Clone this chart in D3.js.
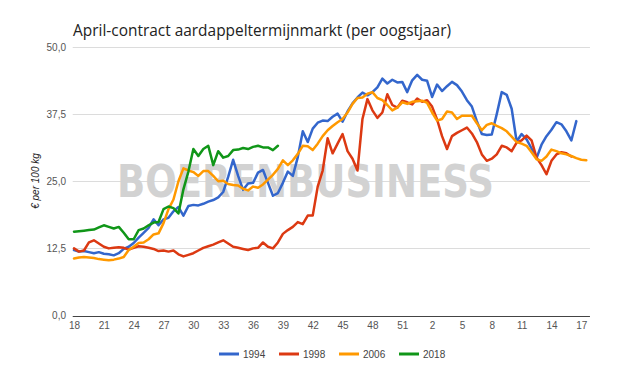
<!DOCTYPE html>
<html><head><meta charset="utf-8">
<script src="https://cdn.jsdelivr.net/npm/d3@7"></script>
<style>html,body{margin:0;padding:0;background:#fff;}svg{display:block;}</style>
</head><body>
<script>
// ---- data ----
const title = "April-contract aardappeltermijnmarkt (per oogstjaar)";
const yTitle = "€ per 100 kg";
const weekTickLabels = ["18","21","24","27","30","33","36","39","42","45","48","51","2","5","8","11","14","17"];
const yTicks = [0, 12.5, 25, 37.5, 50];
const seriesNames = ["1994","1998","2006","2018"];
const seriesColors = ["#3366cc","#dc3912","#ff9900","#109618"];
// values sampled every half week, starting at week 18
const v1994 = [12.2,11.9,12.0,11.8,11.6,11.8,11.5,11.4,11.2,11.6,12.4,12.8,13.5,14.5,15.4,16.3,17.9,16.8,17.9,18.2,
  19.4,20.2,18.6,20.4,20.6,20.5,20.8,21.2,21.5,22.0,23.0,25.8,29.0,26.0,23.4,24.6,24.7,26.6,27.1,24.7,
  22.3,22.8,24.7,26.8,26.0,29.5,34.3,32.3,34.8,35.9,36.3,36.2,37.0,37.6,36.1,38.0,39.5,40.6,41.5,41.0,
  41.6,42.5,44.1,43.2,43.9,43.4,43.5,41.6,43.8,44.8,43.9,43.7,40.7,43.0,41.8,42.7,43.5,42.9,41.7,40.1,
  38.9,36.2,33.8,33.6,33.7,37.5,41.6,41.1,38.5,32.4,33.8,32.8,31.1,29.3,31.8,33.4,34.6,36.0,35.6,34.3,
  32.6,36.2];
const v1998 = [12.5,11.9,12.1,13.6,14.0,13.4,12.8,12.5,12.6,12.7,12.6,12.3,12.6,12.9,12.8,12.6,12.4,12.0,12.1,11.9,
  12.1,11.4,11.0,11.3,11.6,12.1,12.6,12.9,13.2,13.6,14.0,13.4,12.8,12.6,12.4,12.2,12.5,12.6,13.6,12.8,
  12.5,13.6,15.2,15.9,16.5,17.4,17.0,18.6,18.6,24.0,27.0,33.0,30.2,32.0,33.8,30.6,29.2,27.0,36.6,40.3,
  38.2,36.8,37.8,41.2,39.2,38.7,40.0,39.7,39.3,40.4,39.8,40.1,38.9,36.5,33.4,31.0,33.4,34.0,34.5,35.0,
  33.9,32.3,30.0,28.8,29.2,30.0,31.6,31.3,30.6,32.2,32.6,33.5,32.6,29.4,28.0,26.3,28.8,30.0,30.4,30.2,
  29.6];
const v2006 = [10.6,10.8,10.9,10.8,10.7,10.5,10.4,10.3,10.4,10.6,10.9,12.2,12.8,13.5,13.6,14.2,15.1,15.3,17.2,19.8,
  21.6,25.0,27.4,27.0,26.7,26.0,26.9,26.9,26.0,25.0,25.1,24.5,24.3,24.2,23.6,23.3,24.0,23.8,24.4,25.3,
  26.2,27.3,28.9,28.0,28.9,30.1,31.6,31.5,30.8,32.0,33.4,34.5,35.3,36.0,36.6,37.8,39.4,40.5,40.6,41.3,
  41.6,40.5,40.1,39.2,38.2,38.7,39.7,39.4,39.8,39.9,40.0,39.6,37.8,36.3,36.6,38.0,37.8,36.6,37.2,37.2,
  37.2,35.8,34.5,35.5,35.8,35.3,34.9,34.3,33.3,32.3,32.0,31.6,30.4,29.1,28.8,29.6,30.9,30.6,30.2,30.0,
  29.7,29.3,29.0,28.9];
const v2018 = [15.6,15.7,15.8,15.9,16.0,16.4,16.8,16.5,16.2,16.5,15.4,14.2,14.2,15.9,16.2,16.8,17.3,17.4,19.8,20.3,
  20.0,19.0,23.5,26.8,31.0,29.7,31.0,31.6,28.0,30.6,29.4,29.7,30.8,30.9,31.2,31.0,31.4,31.6,31.3,31.3,
  30.8,31.6];
const seriesValues = [v1994, v1998, v2006, v2018];

// ---- chart ----
const W = 625, H = 380;
const svg = d3.select("body").append("svg").attr("width", W).attr("height", H);

const x = d3.scaleLinear().domain([0, 51]).range([74, 581.3]);
const y = d3.scaleLinear().domain([0, 50]).range([315.5, 47]);
const xMin = -0.13, xMax = 51.87;

// gridlines
svg.append("g").selectAll("line").data(yTicks.filter(d => d !== 0)).join("line")
  .attr("x1", x(xMin)).attr("x2", x(xMax))
  .attr("y1", d => Math.round(y(d)) + 0.5).attr("y2", d => Math.round(y(d)) + 0.5)
  .attr("stroke", "#dcdcdc").attr("stroke-width", 1);

// watermark
svg.append("text").attr("x", 117).attr("y", 197)
  .attr("textLength", 377).attr("lengthAdjust", "spacingAndGlyphs")
  .style("font-family", "'DejaVu Sans', sans-serif").style("font-weight", "bold")
  .style("font-size", "44px").attr("fill", "#d2d2d2")
  .text("BOERENBUSINESS");

// y axis labels
const fmt = d => d3.format(".1f")(d).replace(".", ",");
const yAxis = d3.axisLeft(y).tickValues(yTicks).tickFormat(fmt).tickSize(0).tickPadding(0);
const yg = svg.append("g").attr("transform", "translate(66,0)").call(yAxis);
yg.select(".domain").remove();
yg.selectAll("text").style("font-family", "'Liberation Sans', Arial, sans-serif")
  .style("font-size", "10px").attr("fill", "#555");

// x axis labels
const xAxis = d3.axisBottom(x).tickValues(d3.range(0, 52, 3))
  .tickFormat((d, i) => weekTickLabels[i]).tickSize(0).tickPadding(0);
const xg = svg.append("g").attr("transform", "translate(0,322)").call(xAxis);
xg.select(".domain").remove();
xg.selectAll("text").style("font-family", "'Liberation Sans', Arial, sans-serif")
  .style("font-size", "10px").attr("fill", "#555");

// series lines
const line = d3.line().x((d, i) => x(i * 0.5)).y(d => y(d)).curve(d3.curveLinear);
svg.append("g").selectAll("path").data(seriesValues).join("path")
  .attr("d", d => line(d)).attr("fill", "none")
  .attr("stroke", (d, i) => seriesColors[i]).attr("stroke-width", 2.5)
  .attr("stroke-linejoin", "round").attr("stroke-linecap", "round");

// baseline axis
svg.append("line").attr("x1", x(xMin)).attr("x2", x(xMax))
  .attr("y1", Math.round(y(0)) + 0.5).attr("y2", Math.round(y(0)) + 0.5)
  .attr("stroke", "#444").attr("stroke-width", 1);

// title
svg.append("text").attr("x", 73).attr("y", 36)
  .attr("textLength", 378).attr("lengthAdjust", "spacingAndGlyphs")
  .style("font-family", "'Open Sans', sans-serif").style("font-size", "17px")
  .attr("fill", "#222").text(title);

// y title
svg.append("text").attr("transform", "translate(39,181) rotate(-90)")
  .attr("text-anchor", "middle")
  .style("font-family", "'Liberation Sans', Arial, sans-serif").style("font-size", "10px")
  .style("font-style", "italic").attr("fill", "#222").text(yTitle);

// legend
const lg = svg.append("g").selectAll("g").data(seriesNames).join("g")
  .attr("transform", (d, i) => `translate(${219 + i * 60},354)`);
lg.append("line").attr("x1", 0).attr("x2", 20).attr("y1", 0).attr("y2", 0)
  .attr("stroke", (d, i) => seriesColors[i]).attr("stroke-width", 3);
lg.append("text").attr("x", 24).attr("y", 3.5)
  .style("font-family", "'Liberation Sans', Arial, sans-serif").style("font-size", "10px")
  .attr("fill", "#444").text(d => d);
</script>
</body></html>
